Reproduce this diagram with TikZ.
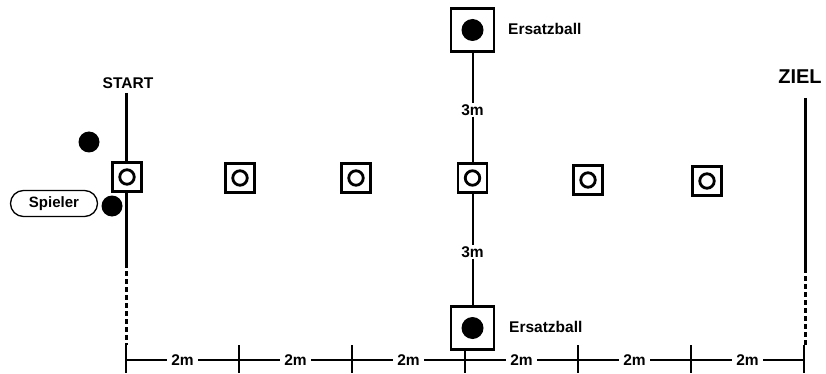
\documentclass[tikz,border=0pt]{standalone}
\usepackage{fontspec}
\setmainfont{Liberation Sans}
\usetikzlibrary{calc}
\pgfdeclarelayer{bg}
\pgfsetlayers{bg,main}
\begin{document}
\begin{tikzpicture}[x=1pt,y=-1pt,
  cone/.style={draw, line width=2.9pt, fill=white, minimum size=29pt, inner sep=0pt},
  bigbox/.style={draw, line width=2.9pt, fill=white, minimum size=43pt, inner sep=0pt},
  ring/.style={circle, draw, line width=2.8pt, minimum size=14.5pt, inner sep=0pt},
  ball/.style={circle, fill=black, minimum size=21pt, inner sep=0pt},
  lbl/.style={font=\bfseries\fontsize{15.5}{17}\selectfont, inner sep=1pt},
  dimlbl/.style={font=\bfseries\fontsize{15.5}{17}\selectfont, fill=white, inner sep=4pt},
  mainline/.style={line width=3pt},
  midline/.style={line width=2pt},
  dimline/.style={line width=1.3pt},
  dashline/.style={line width=3pt, dash pattern=on 5pt off 3pt},
]
\useasboundingbox (0,0) rectangle (826,374);

% cone row
\node[cone] (c1) at (127,177) {};
\node[cone] (c2) at (240,178) {};
\node[cone] (c3) at (356,178) {};
\node[cone] (c4) at (472.5,178) {};
\node[cone] (c5) at (588,180) {};
\node[cone] (c6) at (707,181) {};
\foreach \i in {1,...,6} \node[ring] (r\i) at (c\i) {};

% spare balls
\node[bigbox] (topbox) at (472.5,30) {};
\node[ball, minimum size=22pt] (topball) at (topbox) {};
\node[lbl, anchor=west] (toplbl) at (507,29) {Ersatzball};
\node[bigbox] (botbox) at (472.5,328) {};
\node[ball, minimum size=22pt] (botball) at (botbox) {};
\node[lbl, anchor=west] (botlbl) at (508,327) {Ersatzball};
\node[lbl] (d1) at (472.5,110) {3m};
\node[lbl] (d2) at (472.5,252) {3m};

% start / goal
\node[lbl] (start) at (128,83) {START};
\node[font=\bfseries\fontsize{20}{22}\selectfont, inner sep=1pt] (ziel) at (800,77) {ZIEL};
\node[ball] (ball1) at (89,142) {};
\node[ball] (ball2) at (112,206) {};
\node[draw, line width=1.3pt, rounded corners=13pt, minimum width=87pt, minimum height=26pt,
      inner sep=0pt, font=\bfseries\fontsize{15}{17}\selectfont] (spieler) at (54,203.5) {Spieler};

% coordinates of lines
\coordinate (sTop) at (126,93);
\coordinate (sDash) at (126,263);
\coordinate (sDim) at (126,345);
\coordinate (zTop) at (805,98);
\coordinate (zDash) at (805,268);
\coordinate (zDim) at (805,345);

% dimension line
\foreach \x [count=\k] in {126,239,352,465,578,691,804} {
  \coordinate (t\k) at (\x,360);
  \coordinate (tt\k) at (\x,345);
  \coordinate (tb\k) at (\x,373);
}
\foreach \k [evaluate=\k as \n using int(\k+1)] in {1,...,6} {
  \node[dimlbl] (m\k) at ($(t\k)!0.5!(t\n)$) {2m};
}

\begin{pgfonlayer}{bg}
  \draw[mainline] (sTop) -- (sDash);
  \draw[dashline] (sDash) -- (sDim);
  \draw[mainline] (zTop) -- (zDash);
  \draw[dashline] (zDash) -- (zDim);
  \draw[midline] (topbox) -- (d1) -- (c4) -- (d2) -- (botbox);
  \draw[dimline] (t1) -- (t7);
  \foreach \k in {1,...,7} \draw[dimline] (tt\k) -- (tb\k);
\end{pgfonlayer}
\end{tikzpicture}
\end{document}
